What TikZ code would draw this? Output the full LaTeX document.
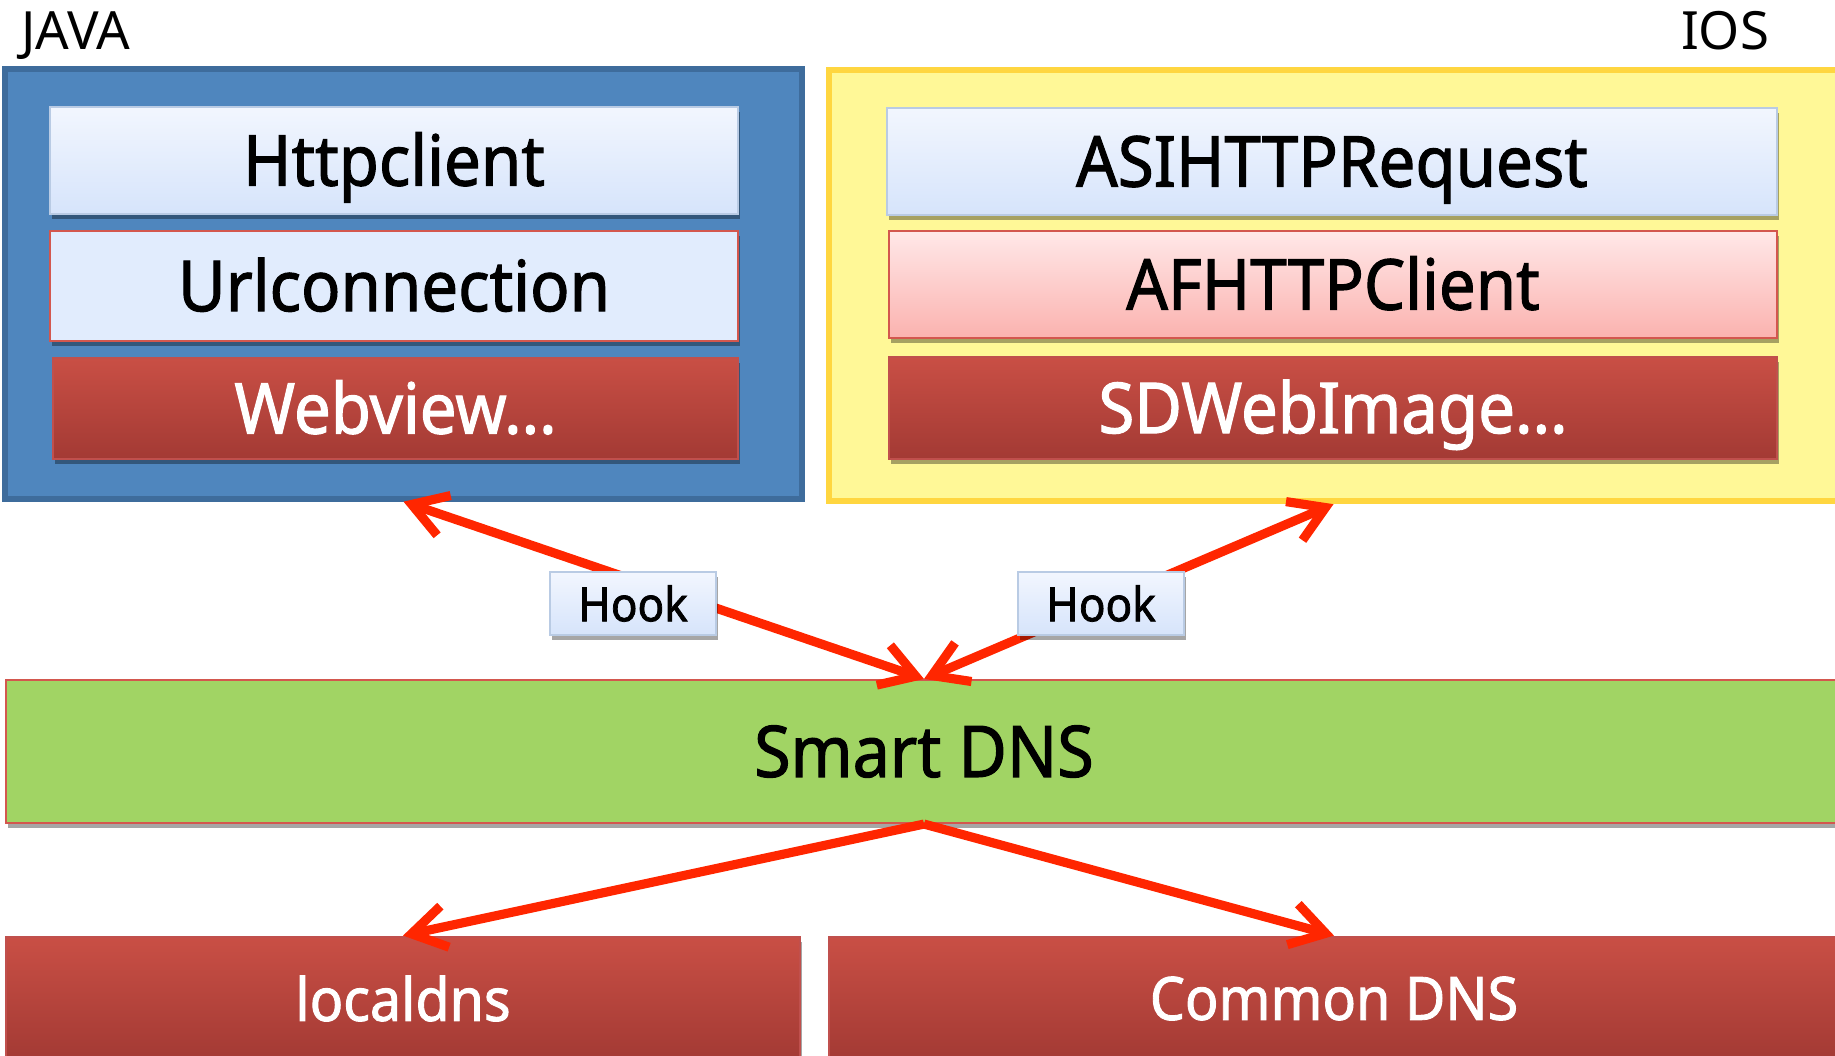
\documentclass[tikz,border=0pt]{standalone}
\usepackage{fontspec}
\setmainfont{Noto Sans}
\newfontfamily\boxfont{Noto Sans}[FakeStretch=0.93, FakeBold=1.5]
\usepackage{tikz}
\usetikzlibrary{arrows.meta, shadows}

\definecolor{javablue}{RGB}{79,134,190}
\definecolor{javaedge}{RGB}{62,108,156}
\definecolor{iosyellow}{RGB}{255,248,151}
\definecolor{iosedge}{RGB}{255,214,64}
\definecolor{lighttop}{RGB}{242,246,254}
\definecolor{lightbottom}{RGB}{214,228,251}
\definecolor{lightedge}{RGB}{185,203,228}
\definecolor{urlfill}{RGB}{225,236,253}
\definecolor{pinktop}{RGB}{255,232,232}
\definecolor{pinkbottom}{RGB}{251,178,175}
\definecolor{rededge}{RGB}{211,87,78}
\definecolor{darktop}{RGB}{201,79,69}
\definecolor{darkbottom}{RGB}{163,58,52}
\definecolor{darkedge}{RGB}{192,80,77}
\definecolor{dnsgreen}{RGB}{161,212,100}
\definecolor{arrowred}{RGB}{255,38,0}

\begin{document}
\begin{tikzpicture}[
        box/.style = {draw, rectangle, inner sep = 0pt, line width = 0.8pt},
        shadowed/.style = {drop shadow = {shadow xshift = 0.02cm, shadow yshift = -0.05cm, opacity = 0.35, fill = black}},
        javabox/.style = {box, draw = javaedge, fill = javablue, line width = 1.5pt},
        iosbox/.style = {box, draw = iosedge, fill = iosyellow, line width = 1.8pt},
        lightbox/.style = {box, shadowed, draw = lightedge, top color = lighttop, bottom color = lightbottom},
        urlbox/.style = {box, shadowed, draw = rededge, fill = urlfill},
        pinkbox/.style = {box, shadowed, draw = rededge, top color = pinktop, bottom color = pinkbottom},
        darkbox/.style = {box, shadowed, draw = darkedge, top color = darktop, bottom color = darkbottom, text = white},
        bigtext/.style = {font = \boxfont\fontsize{20}{24}\selectfont, text height = 14.3pt, text depth = 0pt},
        titletext/.style = {anchor = base, inner sep = 0pt, font = \fontsize{15}{18}\selectfont},
        redarrow/.style = {draw = arrowred, line width = 2.6pt, >={Straight Barb[length = 3.4mm, width = 4.2mm]}}
    ]
    \useasboundingbox (0, 0) rectangle (18.35, -10.56);
    \clip (0, 0) rectangle (18.35, -10.56);

    % titles
    \draw
        (0.76, -0.49) node[titletext](javatitle){JAVA}
        (17.25, -0.49) node[titletext](iostitle){IOS}
    ;

    % platform boxes
    \draw
        (4.035, -2.84) node[javabox, minimum width = 7.97cm, minimum height = 4.30cm](java){}
        (13.335, -2.855) node[iosbox, minimum width = 10.09cm, minimum height = 4.31cm](ios){}

        (3.94, -1.605) node[lightbox, bigtext, minimum width = 6.88cm, minimum height = 1.07cm](httpclient){Httpclient}
        (3.94, -2.86) node[urlbox, bigtext, minimum width = 6.88cm, minimum height = 1.10cm](urlconn){Urlconnection}
        (3.955, -4.085) node[darkbox, bigtext, minimum width = 6.85cm, minimum height = 1.01cm](webview){Webview...}

        (13.32, -1.615) node[lightbox, bigtext, minimum width = 8.90cm, minimum height = 1.07cm](asihttp){ASIHTTPRequest}
        (13.33, -2.845) node[pinkbox, bigtext, minimum width = 8.88cm, minimum height = 1.07cm](afhttp){AFHTTPClient}
        (13.33, -4.08) node[darkbox, bigtext, minimum width = 8.88cm, minimum height = 1.02cm](sdweb){SDWebImage...}
    ;

    % dns boxes
    \draw
        (9.24, -7.515) node[box, shadowed, draw = rededge, fill = dnsgreen, line width = 0.6pt, font = \boxfont\fontsize{20.3}{24}\selectfont, minimum width = 18.36cm, minimum height = 1.43cm](smartdns){Smart DNS}
        (4.03, -9.985) node[darkbox, font = \boxfont\fontsize{17}{20}\selectfont, minimum width = 7.94cm, minimum height = 1.23cm](localdns){localdns}
        (13.34, -9.985) node[darkbox, font = \boxfont\fontsize{17}{20}\selectfont, minimum width = 10.1cm, minimum height = 1.23cm](commondns){Common DNS}
    ;

    \draw[redarrow, <->] (smartdns.north) -- (java.south);
    \draw[redarrow, <->] (smartdns.north) -- (ios.south);
    \draw[redarrow, ->] (smartdns.south) -- (localdns.north);
    \draw[redarrow, ->] (smartdns.south) -- (commondns.north);

    % hook labels on top of the arrows
    \draw
        (6.33, -6.035) node[lightbox, font = \boxfont\fontsize{13.5}{16}\selectfont, minimum width = 1.66cm, minimum height = 0.63cm](hookjava){Hook}
        (11.01, -6.035) node[lightbox, font = \boxfont\fontsize{13.5}{16}\selectfont, minimum width = 1.66cm, minimum height = 0.63cm](hookios){Hook}
    ;
\end{tikzpicture}
\end{document}
